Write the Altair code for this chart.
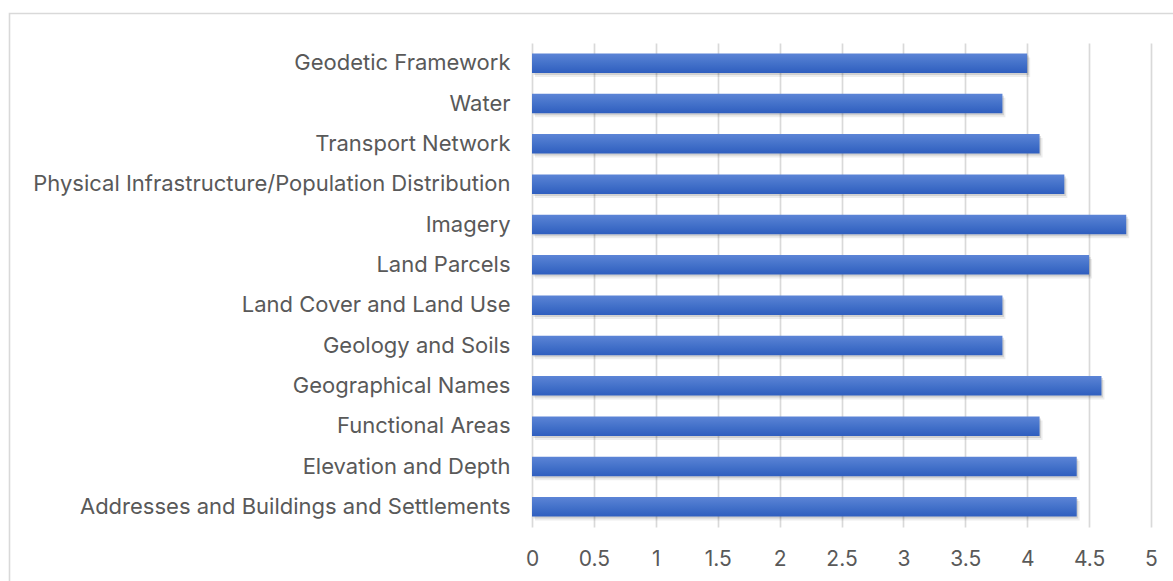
import altair as alt
import pandas as pd

# Data layers listed top to bottom as displayed
layers = [
    "Geodetic Framework",
    "Water",
    "Transport Network",
    "Physical Infrastructure/Population Distribution",
    "Imagery",
    "Land Parcels",
    "Land Cover and Land Use",
    "Geology and Soils",
    "Geographical Names",
    "Functional Areas",
    "Elevation and Depth",
    "Addresses and Buildings and Settlements",
]
scores = [4.0, 3.8, 4.1, 4.3, 4.8, 4.5, 3.8, 3.8, 4.6, 4.1, 4.4, 4.4]
tick_values = [0, 0.5, 1, 1.5, 2, 2.5, 3, 3.5, 4, 4.5, 5]

df = pd.DataFrame({"layer": layers, "score": scores})

FONT = "Inter"
TEXT = "#595959"
GRID = "#D9D9D9"

x_enc = alt.X(
    "score:Q",
    scale=alt.Scale(domain=[0, 5], nice=False, zero=True),
    axis=alt.Axis(
        values=tick_values,
        format="~g",
        title=None,
        grid=True,
        gridColor=GRID,
        gridWidth=1.7,
        domain=False,
        ticks=False,
        labelFlush=False,
        labelFont=FONT,
        labelFontSize=21,
        labelColor=TEXT,
        labelPadding=21,
    ),
)
y_enc = alt.Y(
    "layer:N",
    sort=None,
    scale=alt.Scale(paddingInner=0.516, paddingOuter=0.258),
    axis=alt.Axis(
        title=None,
        domain=False,
        ticks=False,
        grid=False,
        labelFont=FONT,
        labelFontSize=22,
        labelColor=TEXT,
        labelPadding=22,
        labelLimit=600,
    ),
)

base = alt.Chart(df)

# soft drop shadow beneath each bar
shadow_outer = base.mark_bar(color="#000000", opacity=0.07, xOffset=3, yOffset=4).encode(x=x_enc, y=y_enc)
shadow_inner = base.mark_bar(color="#000000", opacity=0.12, xOffset=1.5, yOffset=2).encode(x=x_enc, y=y_enc)

bars = base.mark_bar(
    color=alt.Gradient(
        gradient="linear",
        stops=[
            alt.GradientStop(color="#5C84D6", offset=0),
            alt.GradientStop(color="#4472CA", offset=0.5),
            alt.GradientStop(color="#2F5EBF", offset=1),
        ],
        x1=0, x2=0, y1=0, y2=1,
    )
).encode(x=x_enc, y=y_enc)

# outer chart frame
frame = alt.Chart(alt.Data(values=[{}])).mark_rect(
    fill=None, stroke=GRID, strokeWidth=1.6
).encode(
    x=alt.value(-522.5), x2=alt.value(660),
    y=alt.value(-29.5), y2=alt.value(560),
)

chart = (
    alt.layer(frame, shadow_outer, shadow_inner, bars)
    .properties(
        width=619,
        height=484,
        autosize=alt.AutoSizeParams(type="none"),
        padding={"left": 532, "top": 43, "right": 22, "bottom": 54},
        background="white",
    )
    .configure_view(stroke=None)
)

chart.save("out.html", embed_options={"renderer": "svg", "actions": False})
